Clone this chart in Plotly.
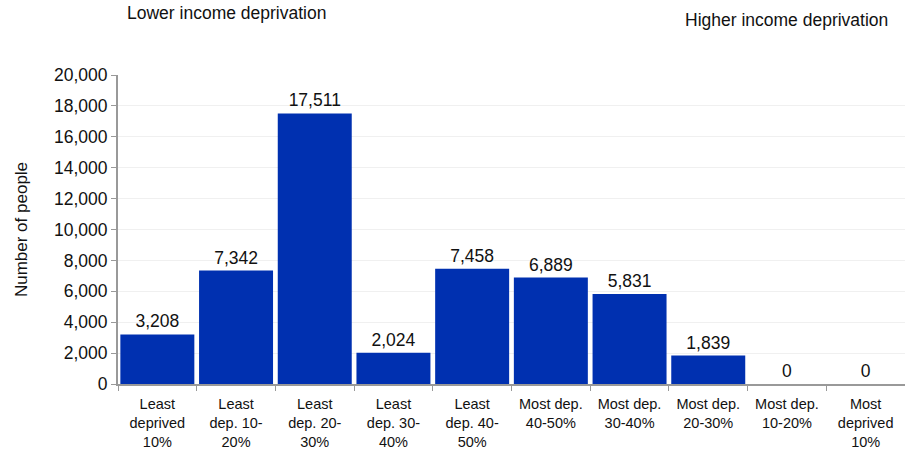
import plotly.graph_objects as go

categories = ["Least<br>deprived<br>10%", "Least<br>dep. 10-<br>20%", "Least<br>dep. 20-<br>30%",
              "Least<br>dep. 30-<br>40%", "Least<br>dep. 40-<br>50%", "Most dep.<br>40-50%",
              "Most dep.<br>30-40%", "Most dep.<br>20-30%", "Most dep.<br>10-20%",
              "Most<br>deprived<br>10%"]
values = [3208, 7342, 17511, 2024, 7458, 6889, 5831, 1839, 0, 0]
ytickvals = [0, 2000, 4000, 6000, 8000, 10000, 12000, 14000, 16000, 18000, 20000]

font = "Liberation Sans, Arial, sans-serif"

fig = go.Figure(go.Bar(
    x=categories, y=values,
    marker=dict(color="#0030b0", line=dict(width=0)),
    text=[f"{v:,}" for v in values], textposition="outside",
    textfont=dict(size=17.5, color="#111111", family=font),
    cliponaxis=False,
))

fig.update_layout(
    width=905, height=450,
    margin=dict(l=118, r=0, t=75, b=66),
    paper_bgcolor="white", plot_bgcolor="white",
    bargap=0.06,
    showlegend=False,
    font=dict(family=font, color="#111111"),
    xaxis=dict(
        tickson="boundaries", ticks="outside", ticklen=5, tickcolor="#999999",
        showline=True, linecolor="#999999", linewidth=2,
        tickfont=dict(size=14.5, color="#111111"), tickangle=0,
        ticklabelstandoff=6,
        showgrid=False, automargin=False,
    ),
    yaxis=dict(
        range=[0, 20000], tickvals=ytickvals, tickformat=",",
        ticks="outside", ticklen=5, tickcolor="#999999",
        showline=True, linecolor="#999999", linewidth=2,
        showgrid=True, gridcolor="#f0f0f0", gridwidth=1,
        tickfont=dict(size=17.5, color="#111111"),
        title=dict(text="Number of people", font=dict(size=17, color="#111111"), standoff=22),
        zeroline=False, automargin=False,
    ),
    annotations=[
        dict(text="Lower income deprivation", xref="paper", yref="paper",
             x=(125 - 118) / 787, y=1, yshift=62, xanchor="left", yanchor="middle",
             showarrow=False, font=dict(size=17.5, color="#111111")),
        dict(text="Higher income deprivation", xref="paper", yref="paper",
             x=(890 - 118) / 787, y=1, yshift=55, xanchor="right", yanchor="middle",
             showarrow=False, font=dict(size=17.5, color="#111111")),
    ],
)

fig.write_html("out.html", config={"displayModeBar": False},
               post_script="document.body.style.margin='0';document.body.style.overflow='hidden';")
